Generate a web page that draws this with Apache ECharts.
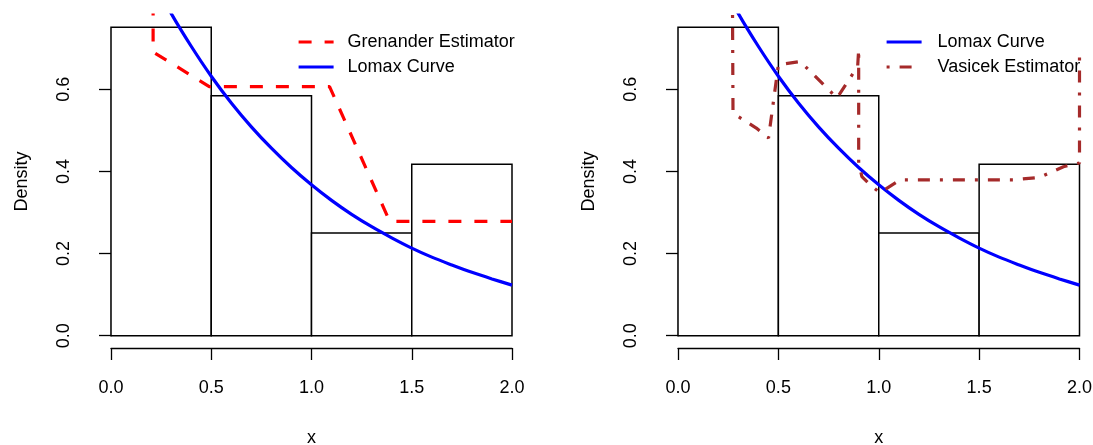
<!DOCTYPE html>
<html>
<head>
<meta charset="utf-8">
<script src="https://cdn.jsdelivr.net/npm/echarts@6/dist/echarts.min.js"></script>
<style>
html,body{margin:0;padding:0;background:#fff;}
#chart{width:1093px;height:445px;}
</style>
</head>
<body>
<div id="chart"></div>
<script>
// ---- data ----
const binStart = [0.0, 0.5, 1.0, 1.5];
const binEnd = [0.5, 1.0, 1.5, 2.0];
const binDensity = [0.75, 0.5833, 0.25, 0.4167];

const lomaxX = [0.2, 0.3, 0.4, 0.5, 0.6, 0.7, 0.8, 0.9, 1.0, 1.1, 1.2, 1.3, 1.4, 1.5, 1.6, 1.7, 1.8, 1.9, 2.0];
const lomaxY = [0.874, 0.784, 0.704, 0.631, 0.566, 0.508, 0.456, 0.409, 0.367, 0.329, 0.295, 0.265, 0.238, 0.213, 0.191, 0.172, 0.154, 0.138, 0.123];

const grenanderX = [0.21, 0.21, 0.49, 1.09, 1.39, 2.0];
const grenanderY = [1.0, 0.69, 0.606, 0.606, 0.278, 0.278];

const vasicekX = [0.27, 0.274, 0.39, 0.451, 0.50, 0.609, 0.792, 0.895, 0.90, 0.90, 0.916, 0.966, 1.007, 1.107, 1.671, 1.80, 1.92, 2.0, 2.0];
const vasicekY = [0.95, 0.541, 0.505, 0.481, 0.659, 0.667, 0.578, 0.655, 0.697, 0.42, 0.387, 0.363, 0.348, 0.379, 0.379, 0.385, 0.411, 0.42, 0.688];

const xTicks = [0, 0.5, 1.0, 1.5, 2.0];
const yTicks = [0, 0.2, 0.4, 0.6];

const labelsLeft = ['Grenander Estimator', 'Lomax Curve'];
const labelsRight = ['Lomax Curve', 'Vasicek Estimator'];

// ---- build ----
const FONT = "'Liberation Sans', Arial, Helvetica, sans-serif";
const FS = 18;
const zip = (a, b) => a.map((v, i) => [v, b[i]]);
const bins = binStart.map((s, i) => [s, binEnd[i], binDensity[i]]);

const panels = [
  {left: 111, right: 1093 - 512},
  {left: 678, right: 1093 - 1079.5}
];

const grid = [], xAxis = [], yAxis = [], series = [];
panels.forEach((p, k) => {
  const gData = grid.length;
  grid.push({left: p.left, right: p.right, top: 15, bottom: 445 - 348, outerBoundsMode: 'none', containLabel: false});
  const gAx = grid.length;
  grid.push({left: p.left, right: p.right, top: 89.3, bottom: 445 - 335.7, outerBoundsMode: 'none', containLabel: false});

  xAxis.push({
    type: 'value', gridIndex: gData, min: xTicks[0], max: xTicks[xTicks.length - 1], interval: 0.5,
    axisLine: {show: true, onZero: false, lineStyle: {color: '#000', width: 1.3}},
    axisTick: {show: true, length: 12, lineStyle: {color: '#000', width: 1.3}},
    axisLabel: {show: true, margin: 31, fontSize: FS, color: '#000', fontFamily: FONT,
      formatter: v => v.toFixed(1)},
    splitLine: {show: false},
    name: 'x', nameLocation: 'middle', nameGap: 81,
    nameTextStyle: {fontSize: FS, color: '#000', fontFamily: FONT}
  });
  yAxis.push({
    type: 'value', gridIndex: gData, min: -0.03, max: 0.78,
    axisLine: {show: false}, axisTick: {show: false}, axisLabel: {show: false}, splitLine: {show: false},
    name: 'Density', nameLocation: 'middle', nameGap: 80,
    nameTextStyle: {fontSize: FS, color: '#000', fontFamily: FONT}
  });
  xAxis.push({type: 'value', gridIndex: gAx, min: 0, max: 2, show: false});
  yAxis.push({
    type: 'value', gridIndex: gAx, min: yTicks[0], max: yTicks[yTicks.length - 1], interval: 0.2, offset: 16,
    axisLine: {show: true, lineStyle: {color: '#000', width: 1.3}},
    axisTick: {show: true, length: 12, lineStyle: {color: '#000', width: 1.3}},
    axisLabel: {show: true, rotate: 90, margin: 22, fontSize: FS, color: '#000', fontFamily: FONT,
      formatter: v => v.toFixed(1)},
    splitLine: {show: false}
  });
  const xi = gData, yi = gData;
  series.push({
    type: 'custom', xAxisIndex: xi, yAxisIndex: yi, silent: true, z: 1,
    data: bins,
    renderItem: (params, api) => {
      const p0 = api.coord([api.value(0), api.value(2)]);
      const p1 = api.coord([api.value(1), 0]);
      return {type: 'rect', shape: {x: p0[0], y: p0[1], width: p1[0] - p0[0], height: p1[1] - p0[1]},
        style: {fill: '#fff', stroke: '#000', lineWidth: 1.5}};
    }
  });
  series.push({type: 'line', xAxisIndex: xAxis.length - 1, yAxisIndex: yAxis.length - 1, data: [], silent: true});
  const lomax = {
    name: 'Lomax Curve', type: 'line', xAxisIndex: xi, yAxisIndex: yi, data: zip(lomaxX, lomaxY),
    symbol: 'none', smooth: 0.3, clip: true, z: 3,
    lineStyle: {color: '#0000FF', width: 3.2}, itemStyle: {color: '#0000FF'}
  };
  if (k === 0) {
    series.push({
      name: 'Grenander Estimator', type: 'line', xAxisIndex: xi, yAxisIndex: yi, data: zip(grenanderX, grenanderY),
      symbol: 'none', clip: true, z: 3,
      lineStyle: {color: '#FF0000', width: 3.2, type: [13, 13]}, itemStyle: {color: '#FF0000'}
    });
    series.push(lomax);
  } else {
    series.push(lomax);
    series.push({
      name: 'Vasicek Estimator', type: 'line', xAxisIndex: xi, yAxisIndex: yi, data: zip(vasicekX, vasicekY),
      symbol: 'none', clip: true, z: 3,
      lineStyle: {color: '#A52A2A', width: 3.2, type: [3, 10, 12, 10]}, itemStyle: {color: '#A52A2A'}
    });
  }
});

const legendBase = {
  orient: 'vertical', top: 29.5, padding: 0, itemGap: 0, itemWidth: 35, itemHeight: 14,
  selectedMode: false, lineStyle: {width: 3.2}, itemStyle: {opacity: 0},
  textStyle: {fontSize: FS, color: '#000', fontFamily: FONT, lineHeight: 25}
};

const chart = echarts.init(document.getElementById('chart'), null, {renderer: 'canvas'});
chart.setOption({
  animation: false,
  backgroundColor: '#fff',
  grid, xAxis, yAxis, series,
  legend: [
    Object.assign({}, legendBase, {left: 297, data: labelsLeft, textStyle: Object.assign({}, legendBase.textStyle, {padding: [0, 0, 0, 9]})}),
    Object.assign({}, legendBase, {left: 885, data: labelsRight, textStyle: Object.assign({}, legendBase.textStyle, {padding: [0, 0, 0, 11]})})
  ]
});
</script>
</body>
</html>
